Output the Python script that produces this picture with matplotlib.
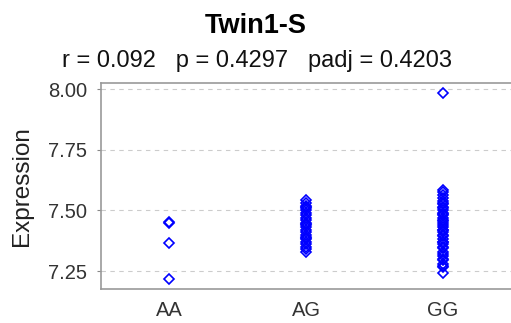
import matplotlib
matplotlib.use("Agg")
import matplotlib.pyplot as plt

plt.rcParams['font.family'] = ['Liberation Sans', 'DejaVu Sans']

# genotype groups and expression values
genotypes = ["AA", "AG", "GG"]
aa_values = [7.449, 7.452, 7.364, 7.216]
ag_values = [7.330, 7.34, 7.35, 7.36, 7.37, 7.38, 7.385, 7.39, 7.40, 7.41,
             7.42, 7.43, 7.44, 7.445, 7.45, 7.46, 7.47, 7.48, 7.49, 7.50,
             7.51, 7.515, 7.52, 7.53, 7.543]
gg_values = [7.982, 7.584, 7.575, 7.565, 7.55, 7.54, 7.53, 7.525, 7.515, 7.50,
             7.49, 7.485, 7.47, 7.46, 7.455, 7.44, 7.43, 7.42, 7.41, 7.40,
             7.395, 7.38, 7.37, 7.36, 7.35, 7.345, 7.33, 7.32, 7.31, 7.30,
             7.295, 7.28, 7.27, 7.265, 7.243, 7.42, 7.45, 7.48, 7.51, 7.37]
groups = [aa_values, ag_values, gg_values]

title = "Twin1-S"
stats_line = "r = 0.092   p = 0.4297   padj = 0.4203"
yticks = [7.25, 7.50, 7.75, 8.00]

fig = plt.figure(figsize=(5.11, 3.23), dpi=100)
ax = fig.add_axes([0.1977, 0.1053, 0.8023, 0.6377])

for i, vals in enumerate(groups):
    ax.plot([i] * len(vals), vals, linestyle='none', marker='D', markersize=5.5,
            markerfacecolor='none', markeredgecolor='#0000ff', markeredgewidth=1.2)

ax.set_xlim(-0.5, 2.5)
ax.set_ylim(7.176, 8.025)
ax.set_xticks(range(len(genotypes)))
ax.set_xticklabels(genotypes)
ax.set_yticks(yticks)
ax.set_yticklabels([f"{t:.2f}" for t in yticks])
ax.tick_params(axis='x', length=0, labelsize=14.5, labelcolor='#333333', pad=9)
ax.tick_params(axis='y', length=3, color='#888888', labelsize=14.5, labelcolor='#333333', pad=7)

ax.yaxis.grid(True, linestyle=(0, (4, 4)), color='#cccccc', linewidth=0.8)
ax.set_axisbelow(True)

for side in ['left', 'bottom', 'top']:
    ax.spines[side].set_color('#999999')
    ax.spines[side].set_linewidth(1.2)
ax.spines['right'].set_visible(False)

fig.text(0.043, 0.424, "Expression", rotation=90, ha='center', va='center',
         fontsize=17.5, color='#222222')

fig.text(0.501, 0.898, title, ha='center', va='baseline', fontsize=19.5, fontweight='bold')
fig.text(0.502, 0.7935, stats_line, ha='center', va='baseline', fontsize=17, color='#111111')

fig.savefig("out.png", dpi=100)
